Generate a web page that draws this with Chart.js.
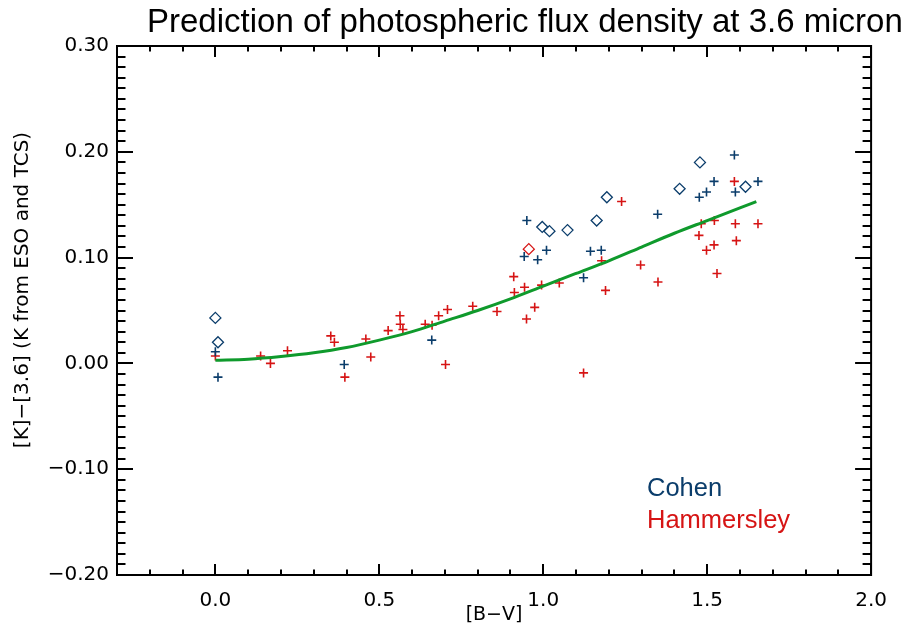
<!DOCTYPE html>
<html>
<head>
<meta charset="utf-8">
<script src="https://cdn.jsdelivr.net/npm/chart.js@4.4.0/dist/chart.umd.min.js"></script>
<style>
  body { margin: 0; background: #fff; }
  #chart { display: block; }
</style>
</head>
<body>
<canvas id="chart" width="901" height="639"></canvas>
<script>
// values
const cohenCrossX = [0.0, 0.008, 0.393, 0.660, 0.950, 0.942, 0.983, 1.010, 1.123, 1.144, 1.177, 1.349, 1.476, 1.498, 1.521, 1.583, 1.586, 1.655];
const cohenCrossY = [0.011, -0.013, -0.001, 0.022, 0.135, 0.101, 0.098, 0.107, 0.081, 0.106, 0.107, 0.141, 0.157, 0.162, 0.172, 0.197, 0.162, 0.172];

const cohenDiamondX = [0.0, 0.008, 0.997, 1.019, 1.074, 1.163, 1.194, 1.416, 1.478, 1.617];
const cohenDiamondY = [0.043, 0.020, 0.129, 0.125, 0.126, 0.135, 0.157, 0.165, 0.190, 0.167];

const hamCrossX = [0.0, 0.138, 0.168, 0.22, 0.352, 0.363, 0.395, 0.459, 0.474, 0.527, 0.563, 0.564, 0.572, 0.640, 0.661, 0.681, 0.702, 0.708, 0.785, 0.859, 0.910, 0.912, 0.943, 0.949, 0.974, 0.995, 1.049, 1.123, 1.178, 1.190, 1.239, 1.297, 1.350, 1.475, 1.482, 1.498, 1.521, 1.522, 1.530, 1.583, 1.586, 1.589, 1.655];
const hamCrossY = [0.007, 0.007, 0.0, 0.012, 0.026, 0.020, -0.013, 0.023, 0.006, 0.031, 0.045, 0.037, 0.032, 0.037, 0.036, 0.045, -0.001, 0.051, 0.054, 0.049, 0.082, 0.067, 0.072, 0.042, 0.053, 0.074, 0.076, -0.009, 0.097, 0.069, 0.153, 0.093, 0.077, 0.121, 0.132, 0.107, 0.112, 0.135, 0.085, 0.172, 0.132, 0.116, 0.132];

const hamDiamondX = [0.956];
const hamDiamondY = [0.108];

const fitX = [0.0, 0.1, 0.2, 0.3, 0.4, 0.5, 0.6, 0.7, 0.8, 0.9, 1.0, 1.1, 1.2, 1.3, 1.4, 1.5, 1.6, 1.65];
const fitY = [0.003, 0.004, 0.0065, 0.010, 0.015, 0.022, 0.030, 0.040, 0.050, 0.061, 0.073, 0.085, 0.097, 0.110, 0.123, 0.135, 0.147, 0.153];

const xTicks = [0.0, 0.5, 1.0, 1.5, 2.0];
const yTicks = [-0.2, -0.1, 0.0, 0.1, 0.2, 0.3];

const BLUE = '#0b3d6b';
const RED = '#d61414';
const GREEN = '#0f9a2c';

function pts(xs, ys) {
  return xs.map((x, i) => ({x: x, y: ys[i]}));
}

// tick label text, with a real minus sign
function fmt(v, d) {
  const s = Math.abs(v).toFixed(d);
  return v < -1e-9 ? '\u2212' + s : s;
}

// IDL style box with inward ticks on all four sides
const frameTicks = {
  id: 'frameTicks',
  afterDraw(chart) {
    const ctx = chart.ctx;
    const a = chart.chartArea;
    const x = chart.scales.x;
    const y = chart.scales.y;
    ctx.save();
    ctx.strokeStyle = '#000';
    ctx.lineWidth = 2;
    ctx.strokeRect(a.left, a.top, a.right - a.left, a.bottom - a.top);
    ctx.beginPath();
    for (let k = -3; k <= 20; k++) {
      const px = Math.round(x.getPixelForValue(k / 10));
      const len = k % 5 === 0 ? 11 : 5.5;
      ctx.moveTo(px, a.bottom); ctx.lineTo(px, a.bottom - len);
      ctx.moveTo(px, a.top); ctx.lineTo(px, a.top + len);
    }
    for (let k = -20; k <= 30; k++) {
      const py = Math.round(y.getPixelForValue(k / 100));
      const len = k % 10 === 0 ? 16 : 8.5;
      ctx.moveTo(a.left, py); ctx.lineTo(a.left + len, py);
      ctx.moveTo(a.right, py); ctx.lineTo(a.right - len, py);
    }
    ctx.stroke();
    ctx.restore();
  }
};

// main title, y title and the coloured labels
const texts = {
  id: 'texts',
  afterDraw(chart) {
    const ctx = chart.ctx;
    ctx.save();
    ctx.textBaseline = 'alphabetic';
    ctx.textAlign = 'left';
    ctx.fillStyle = '#000';
    ctx.font = '33px "Liberation Sans", Arial, sans-serif';
    ctx.fillText('Prediction of photospheric flux density at 3.6 micron', 147, 32);
    ctx.font = '25.5px "Liberation Sans", Arial, sans-serif';
    ctx.fillStyle = BLUE;
    ctx.fillText('Cohen', 647, 496);
    ctx.fillStyle = RED;
    ctx.fillText('Hammersley', 647, 528);

    ctx.fillStyle = '#000';
    ctx.font = '20px "DejaVu Sans"';
    ctx.textAlign = 'center';
    ctx.textBaseline = 'middle';
    ctx.translate(23, 290);
    ctx.rotate(-Math.PI / 2);
    ctx.fillText('[K]\u2212[3.6] (K from ESO and TCS)', 0, 0);
    ctx.restore();
  }
};

const ctx = document.getElementById('chart');
new Chart(ctx, {
  type: 'scatter',
  data: {
    datasets: [
      {
        type: 'line',
        data: pts(fitX, fitY),
        borderColor: GREEN,
        borderWidth: 3,
        pointRadius: 0,
        fill: false,
        cubicInterpolationMode: 'monotone'
      },
      {
        data: pts(cohenCrossX, cohenCrossY),
        pointStyle: 'cross',
        pointRadius: 4.5,
        borderColor: BLUE,
        borderWidth: 1.6
      },
      {
        data: pts(hamCrossX, hamCrossY),
        pointStyle: 'cross',
        pointRadius: 4.5,
        borderColor: RED,
        borderWidth: 1.6
      },
      {
        data: pts(cohenDiamondX, cohenDiamondY),
        pointStyle: 'rectRot',
        pointRadius: 5.5,
        borderColor: BLUE,
        backgroundColor: 'rgba(0,0,0,0)',
        borderWidth: 1.3
      },
      {
        data: pts(hamDiamondX, hamDiamondY),
        pointStyle: 'rectRot',
        pointRadius: 5.5,
        borderColor: RED,
        backgroundColor: 'rgba(0,0,0,0)',
        borderWidth: 1.3
      }
    ]
  },
  options: {
    responsive: false,
    animation: false,
    layout: { padding: { top: 46, right: 27, left: 0, bottom: 0 } },
    plugins: { legend: { display: false }, tooltip: { enabled: false } },
    scales: {
      x: {
        type: 'linear',
        min: -0.3,
        max: 2.0,
        afterBuildTicks: s => { s.ticks = xTicks.map(v => ({value: v})); },
        afterFit: s => { s.height = 64; },
        grid: { display: false, drawTicks: false },
        border: { display: false },
        ticks: {
          color: '#000',
          padding: 14,
          maxRotation: 0,
          font: { family: '"DejaVu Sans"', size: 20 },
          callback: v => fmt(v, 1)
        },
        title: {
          display: true,
          text: '[B\u2212V]',
          color: '#000',
          font: { family: '"DejaVu Sans"', size: 19 },
          padding: { top: 0, bottom: 13 }
        }
      },
      y: {
        type: 'linear',
        min: -0.2,
        max: 0.3,
        afterBuildTicks: s => { s.ticks = yTicks.map(v => ({value: v})); },
        afterFit: s => { s.width = 117; },
        grid: { display: false, drawTicks: false },
        border: { display: false },
        ticks: {
          color: '#000',
          padding: 8,
          font: { family: '"DejaVu Sans"', size: 20 },
          callback: v => fmt(v, 2)
        }
      }
    }
  },
  plugins: [frameTicks, texts]
});
</script>
</body>
</html>
